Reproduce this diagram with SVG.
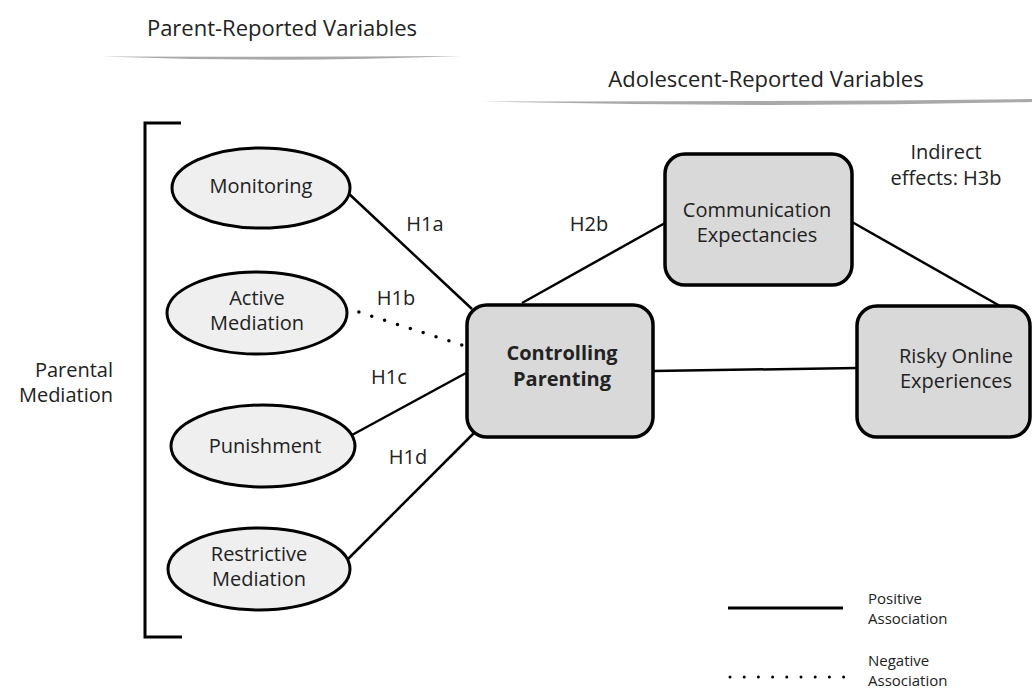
<svg xmlns="http://www.w3.org/2000/svg" width="1032" height="688" viewBox="0 0 1032 688">
<style>
text{font-family:"Open Sans","Liberation Sans",sans-serif;fill:#222;}
.hdr{font-size:22px;text-anchor:middle;}
.lbl{font-size:20px;text-anchor:middle;}
.bold{font-weight:bold;}
.leg{font-size:15px;}
.ell{fill:#efefef;stroke:#000;stroke-width:3;}
.box{fill:#d9d9d9;stroke:#000;stroke-width:3.5;}
.pos{stroke:#000;stroke-width:2.5;fill:none;}
.neg{stroke:#000;stroke-width:3.5;fill:none;stroke-dasharray:0 13.5;stroke-linecap:round;}
.swoosh{fill:#a9a9a9;}
</style>
<rect width="1032" height="688" fill="#fff"/>
<g id="headers">
<text class="hdr" x="282" y="36">Parent-Reported Variables</text>
<path class="swoosh" d="M102,56.5 Q281,57 461,56 Q281,63 102,56.5 Z"/>
<text class="hdr" x="766" y="87">Adolescent-Reported Variables</text>
<path class="swoosh" d="M483,101.5 Q760,102 1032,99 L1032,102 Q760,108 483,101.5 Z"/>
</g>
<g id="bracket">
<path d="M181,123 H145 V637 H182" fill="none" stroke="#000" stroke-width="3"/>
<text class="lbl" x="113" y="377" style="text-anchor:end">Parental</text>
<text class="lbl" x="113" y="402" style="text-anchor:end">Mediation</text>
</g>
<g id="connectors">
<line class="pos" x1="347" y1="192" x2="472" y2="309"/>
<line class="neg" x1="346" y1="308" x2="462" y2="345"/>
<line class="pos" x1="352" y1="435" x2="466" y2="373"/>
<line class="pos" x1="346" y1="561" x2="474" y2="433"/>
<line class="pos" x1="522" y1="303" x2="665" y2="223"/>
<line class="pos" x1="852" y1="222" x2="1000" y2="306"/>
<line class="pos" x1="653" y1="371" x2="857" y2="368"/>
</g>
<g id="edge-labels">
<text class="lbl" x="425" y="231">H1a</text>
<text class="lbl" x="396" y="305">H1b</text>
<text class="lbl" x="389" y="384">H1c</text>
<text class="lbl" x="408" y="464">H1d</text>
<text class="lbl" x="589" y="231">H2b</text>
<text class="lbl" x="946" y="159">Indirect</text>
<text class="lbl" x="946" y="185">effects: H3b</text>
</g>
<g id="monitoring">
<ellipse class="ell" cx="261" cy="188" rx="89" ry="40"/>
<text class="lbl" x="261" y="193">Monitoring</text>
</g>
<g id="active-mediation">
<ellipse class="ell" cx="257" cy="313" rx="90" ry="41"/>
<text class="lbl" x="257" y="305">Active</text>
<text class="lbl" x="257" y="330">Mediation</text>
</g>
<g id="punishment">
<ellipse class="ell" cx="263" cy="446" rx="92" ry="41"/>
<text class="lbl" x="265" y="453">Punishment</text>
</g>
<g id="restrictive-mediation">
<ellipse class="ell" cx="259" cy="569" rx="91" ry="41"/>
<text class="lbl" x="259" y="561">Restrictive</text>
<text class="lbl" x="259" y="586">Mediation</text>
</g>
<g id="controlling-parenting">
<rect class="box" x="467" y="305" width="186" height="132" rx="20"/>
<text class="lbl bold" x="562" y="360">Controlling</text>
<text class="lbl bold" x="562" y="386">Parenting</text>
</g>
<g id="communication-expectancies">
<rect class="box" x="665" y="154" width="187" height="131" rx="20"/>
<text class="lbl" x="757" y="217">Communication</text>
<text class="lbl" x="757" y="242">Expectancies</text>
</g>
<g id="risky-online-experiences">
<rect class="box" x="857" y="306" width="173" height="131" rx="20"/>
<text class="lbl" x="956" y="363">Risky Online</text>
<text class="lbl" x="956" y="388">Experiences</text>
</g>
<g id="legend">
<line x1="728" y1="608" x2="843" y2="608" stroke="#000" stroke-width="3"/>
<line x1="730" y1="677" x2="845" y2="677" stroke="#000" stroke-width="3" stroke-linecap="round" stroke-dasharray="0 14.2"/>
<text class="leg" x="868" y="604">Positive</text>
<text class="leg" x="868" y="624">Association</text>
<text class="leg" x="868" y="666">Negative</text>
<text class="leg" x="868" y="686">Association</text>
</g>
</svg>
